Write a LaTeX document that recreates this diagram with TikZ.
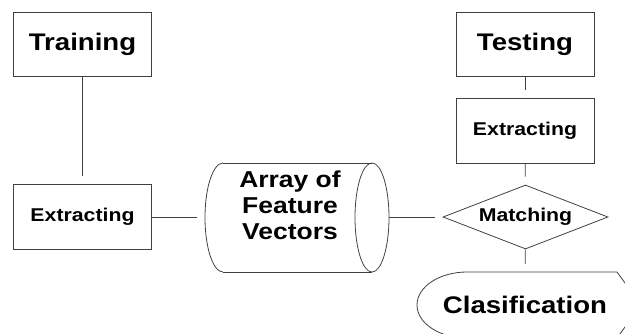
\documentclass[tikz,border=0pt]{standalone}
\usepackage{fontspec}
\setmainfont{Liberation Sans}[FakeStretch=1.15]
\usetikzlibrary{shapes.geometric}
\tikzset{
  stagebox/.style={draw=black!75, line width=0.8pt, minimum width=138pt, minimum height=64pt, inner sep=0pt, font=\bfseries\fontsize{24}{26}\selectfont},
  smallbox/.style={stagebox, minimum height=65pt, font=\bfseries\fontsize{18.5}{20}\selectfont},
  outline/.style={draw=black!75, line width=0.8pt},
  link/.style={draw=black!75, line width=0.8pt, shorten >=8pt},
}
\begin{document}
\begin{tikzpicture}[x=1pt,y=1pt]
            \useasboundingbox (0,0) rectangle (625,-333);

            % Boxes
            \node[stagebox] (train) at (82.5,-44) {Training};
            \node[smallbox] (extrL) at (82.5,-217) {Extracting};
            \node[stagebox] (test) at (525,-44) {Testing};
            \node[smallbox] (extrR) at (525,-130.5) {Extracting};
            \node[diamond, outline, minimum width=165pt, minimum height=64pt, aspect=2.6, inner sep=0pt,
                  font=\bfseries\fontsize{18.5}{20}\selectfont] (match) at (525.5,-217) {Matching};

            % Array of feature vectors (stored data)
            \draw[outline] (223,-163) -- (372,-163) (223,-272) -- (372,-272);
            \draw[outline] (223,-163) arc[start angle=90, end angle=270, x radius=18, y radius=54.5];
            \draw[outline] (372,-217.5) ellipse[x radius=17, y radius=54.5];
            \node[align=center, font=\bfseries\fontsize{23}{26}\selectfont] (array) at (290,-205) {Array of\\Feature\\Vectors};
            \coordinate (arrL) at (205,-217);
            \coordinate (arrR) at (389,-217);

            % Clasification (display)
            \draw[outline] (467,-272) -- (617,-272) -- (641,-305) -- (617,-338) -- (467,-338)
                arc[start angle=270, end angle=90, x radius=50, y radius=33] -- cycle;
            \node[minimum height=66pt, inner sep=0pt, font=\bfseries\fontsize{24}{26}\selectfont] (clas) at (525,-305) {Clasification};

            % Connectors
            \draw[link] (train) -- (extrL);
            \draw[link] (extrL) -- (arrL);
            \draw[link] (arrR) -- (match);
            \draw[link] (test) -- (extrR);
            \draw[link] (extrR) -- (match);
            \draw[link] (match) -- (clas);
        \end{tikzpicture}
\end{document}
